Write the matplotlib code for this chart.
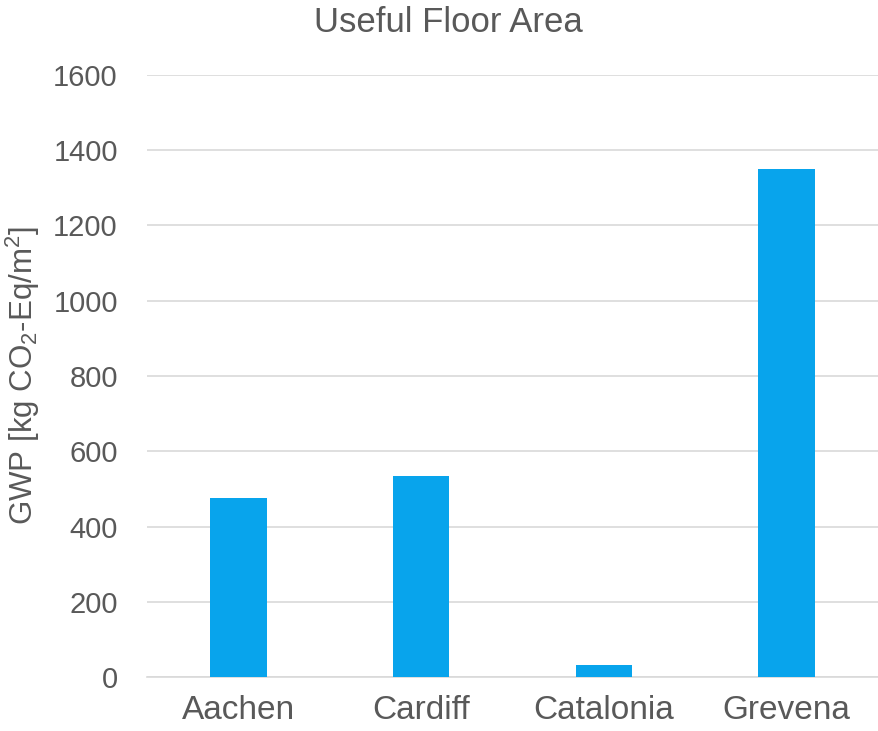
import numpy as np
import matplotlib
matplotlib.use("Agg")
import matplotlib.pyplot as plt

plt.rcParams['font.family'] = ['Liberation Sans', 'DejaVu Sans']
plt.rcParams['mathtext.fontset'] = 'custom'
plt.rcParams['mathtext.rm'] = 'Liberation Sans'
plt.rcParams['mathtext.it'] = 'Liberation Sans'
plt.rcParams['mathtext.default'] = 'regular'

cities = ['Aachen', 'Cardiff', 'Catalonia', 'Grevena']
gwp = [477, 535, 32, 1350]

grey = '#595959'
fig = plt.figure(figsize=(8.79, 7.31), dpi=100)
ax = fig.add_axes([147/879, 54/731, (878-147)/879, (677-75)/731])

x = np.arange(len(cities))
ax.bar(x, gwp, width=0.31, color='#08A4EC', zorder=3)

ax.set_xlim(-0.5, len(cities) - 0.5)
ax.set_ylim(0, 1600)
ax.set_yticks(np.arange(0, 1601, 200))
ax.set_xticks(x)
ax.set_xticklabels(cities)
ax.grid(axis='y', color='#D9D9D9', linewidth=1.2, zorder=0)
for s in ['top', 'right', 'left']:
    ax.spines[s].set_visible(False)
ax.spines['bottom'].set_color('#D9D9D9')
ax.spines['bottom'].set_linewidth(1.2)
ax.tick_params(axis='y', length=0, labelsize=21, colors=grey, pad=21)
ax.tick_params(axis='x', length=0, labelsize=24, colors=grey, pad=13)

# title is centred on the figure, not on the plot area
ax.set_title('Useful Floor Area', fontsize=25, color=grey, pad=31, x=(448-147)/731)
ax.set_ylabel('GWP [kg CO$_2$-Eq/m$^2$]', fontsize=22.5, color=grey, labelpad=8)

fig.savefig('out.png', dpi=100)
